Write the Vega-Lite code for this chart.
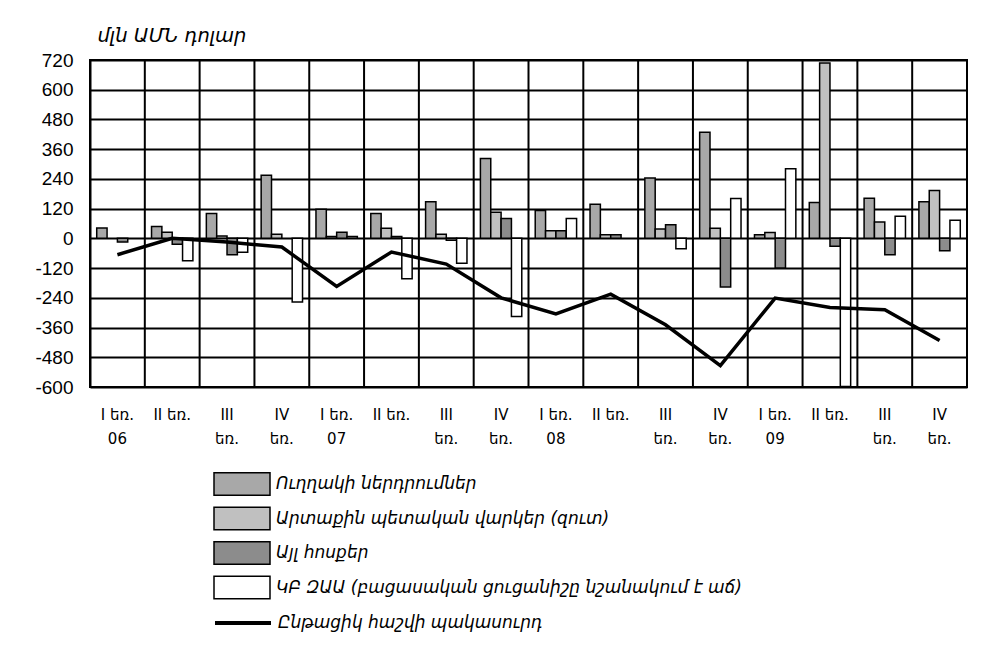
{
  "$schema": "https://vega.github.io/schema/vega-lite/v6.json",
  "width": 877,
  "height": 327,
  "autosize": {"type": "none"},
  "padding": {"left": 90, "top": 60, "right": 23, "bottom": 284},
  "background": "white",
  "config": {
    "view": {"stroke": "black", "strokeWidth": 2},
    "axisY": {"labelOverlap": false}
  },
  "datasets": {
    "bars": [
      {"q": "06-I", "s": "Ուղղակի ներդրումներ", "v": 42},
      {"q": "06-I", "s": "Այլ հոսքեր", "v": -15},
      {"q": "06-II", "s": "Ուղղակի ներդրումներ", "v": 48},
      {"q": "06-II", "s": "Արտաքին պետական վարկեր (զուտ)", "v": 25},
      {"q": "06-II", "s": "Այլ հոսքեր", "v": -24},
      {"q": "06-II", "s": "ԿԲ ԶԱԱ (բացասական ցուցանիշը նշանակում է աճ)", "v": -90},
      {"q": "06-III", "s": "Ուղղակի ներդրումներ", "v": 100},
      {"q": "06-III", "s": "Արտաքին պետական վարկեր (զուտ)", "v": 10},
      {"q": "06-III", "s": "Այլ հոսքեր", "v": -66},
      {"q": "06-III", "s": "ԿԲ ԶԱԱ (բացասական ցուցանիշը նշանակում է աճ)", "v": -56},
      {"q": "06-IV", "s": "Ուղղակի ներդրումներ", "v": 255},
      {"q": "06-IV", "s": "Արտաքին պետական վարկեր (զուտ)", "v": 17},
      {"q": "06-IV", "s": "ԿԲ ԶԱԱ (բացասական ցուցանիշը նշանակում է աճ)", "v": -257},
      {"q": "07-I", "s": "Ուղղակի ներդրումներ", "v": 118},
      {"q": "07-I", "s": "Արտաքին պետական վարկեր (զուտ)", "v": 8},
      {"q": "07-I", "s": "Այլ հոսքեր", "v": 25},
      {"q": "07-I", "s": "ԿԲ ԶԱԱ (բացասական ցուցանիշը նշանակում է աճ)", "v": 8},
      {"q": "07-II", "s": "Ուղղակի ներդրումներ", "v": 100},
      {"q": "07-II", "s": "Արտաքին պետական վարկեր (զուտ)", "v": 41},
      {"q": "07-II", "s": "Այլ հոսքեր", "v": 8},
      {"q": "07-II", "s": "ԿԲ ԶԱԱ (բացասական ցուցանիշը նշանակում է աճ)", "v": -163},
      {"q": "07-III", "s": "Ուղղակի ներդրումներ", "v": 148},
      {"q": "07-III", "s": "Արտաքին պետական վարկեր (զուտ)", "v": 17},
      {"q": "07-III", "s": "Այլ հոսքեր", "v": -8},
      {"q": "07-III", "s": "ԿԲ ԶԱԱ (բացասական ցուցանիշը նշանակում է աճ)", "v": -100},
      {"q": "07-IV", "s": "Ուղղակի ներդրումներ", "v": 322},
      {"q": "07-IV", "s": "Արտաքին պետական վարկեր (զուտ)", "v": 105},
      {"q": "07-IV", "s": "Այլ հոսքեր", "v": 80},
      {"q": "07-IV", "s": "ԿԲ ԶԱԱ (բացասական ցուցանիշը նշանակում է աճ)", "v": -315},
      {"q": "08-I", "s": "Ուղղակի ներդրումներ", "v": 112},
      {"q": "08-I", "s": "Արտաքին պետական վարկեր (զուտ)", "v": 31},
      {"q": "08-I", "s": "Այլ հոսքեր", "v": 31},
      {"q": "08-I", "s": "ԿԲ ԶԱԱ (բացասական ցուցանիշը նշանակում է աճ)", "v": 80},
      {"q": "08-II", "s": "Ուղղակի ներդրումներ", "v": 138},
      {"q": "08-II", "s": "Արտաքին պետական վարկեր (զուտ)", "v": 15},
      {"q": "08-II", "s": "Այլ հոսքեր", "v": 15},
      {"q": "08-III", "s": "Ուղղակի ներդրումներ", "v": 244},
      {"q": "08-III", "s": "Արտաքին պետական վարկեր (զուտ)", "v": 38},
      {"q": "08-III", "s": "Այլ հոսքեր", "v": 55},
      {"q": "08-III", "s": "ԿԲ ԶԱԱ (բացասական ցուցանիշը նշանակում է աճ)", "v": -42},
      {"q": "08-IV", "s": "Ուղղակի ներդրումներ", "v": 428},
      {"q": "08-IV", "s": "Արտաքին պետական վարկեր (զուտ)", "v": 41},
      {"q": "08-IV", "s": "Այլ հոսքեր", "v": -196},
      {"q": "08-IV", "s": "ԿԲ ԶԱԱ (բացասական ցուցանիշը նշանակում է աճ)", "v": 161},
      {"q": "09-I", "s": "Ուղղակի ներդրումներ", "v": 15},
      {"q": "09-I", "s": "Արտաքին պետական վարկեր (զուտ)", "v": 24},
      {"q": "09-I", "s": "Այլ հոսքեր", "v": -120},
      {"q": "09-I", "s": "ԿԲ ԶԱԱ (բացասական ցուցանիշը նշանակում է աճ)", "v": 281},
      {"q": "09-II", "s": "Ուղղակի ներդրումներ", "v": 145},
      {"q": "09-II", "s": "Արտաքին պետական վարկեր (զուտ)", "v": 708},
      {"q": "09-II", "s": "Այլ հոսքեր", "v": -32},
      {"q": "09-II", "s": "ԿԲ ԶԱԱ (բացասական ցուցանիշը նշանակում է աճ)", "v": -598},
      {"q": "09-III", "s": "Ուղղակի ներդրումներ", "v": 162},
      {"q": "09-III", "s": "Արտաքին պետական վարկեր (զուտ)", "v": 66},
      {"q": "09-III", "s": "Այլ հոսքեր", "v": -66},
      {"q": "09-III", "s": "ԿԲ ԶԱԱ (բացասական ցուցանիշը նշանակում է աճ)", "v": 89},
      {"q": "09-IV", "s": "Ուղղակի ներդրումներ", "v": 148},
      {"q": "09-IV", "s": "Արտաքին պետական վարկեր (զուտ)", "v": 193},
      {"q": "09-IV", "s": "Այլ հոսքեր", "v": -50},
      {"q": "09-IV", "s": "ԿԲ ԶԱԱ (բացասական ցուցանիշը նշանակում է աճ)", "v": 73}
    ],
    "ca": [
      {"q": "06-I", "k": "Ընթացիկ հաշվի պակասուրդ", "v": -66},
      {"q": "06-II", "k": "Ընթացիկ հաշվի պակասուրդ", "v": 0},
      {"q": "06-III", "k": "Ընթացիկ հաշվի պակասուրդ", "v": -15},
      {"q": "06-IV", "k": "Ընթացիկ հաշվի պակասուրդ", "v": -35},
      {"q": "07-I", "k": "Ընթացիկ հաշվի պակասուրդ", "v": -194},
      {"q": "07-II", "k": "Ընթացիկ հաշվի պակասուրդ", "v": -55},
      {"q": "07-III", "k": "Ընթացիկ հաշվի պակասուրդ", "v": -104},
      {"q": "07-IV", "k": "Ընթացիկ հաշվի պակասուրդ", "v": -240},
      {"q": "08-I", "k": "Ընթացիկ հաշվի պակասուրդ", "v": -305},
      {"q": "08-II", "k": "Ընթացիկ հաշվի պակասուրդ", "v": -225},
      {"q": "08-III", "k": "Ընթացիկ հաշվի պակասուրդ", "v": -349},
      {"q": "08-IV", "k": "Ընթացիկ հաշվի պակասուրդ", "v": -514},
      {"q": "09-I", "k": "Ընթացիկ հաշվի պակասուրդ", "v": -241},
      {"q": "09-II", "k": "Ընթացիկ հաշվի պակասուրդ", "v": -279},
      {"q": "09-III", "k": "Ընթացիկ հաշվի պակասուրդ", "v": -288},
      {"q": "09-IV", "k": "Ընթացիկ հաշվի պակասուրդ", "v": -412}
    ]
  },
  "layer": [
    {
      "data": {"name": "ca"},
      "mark": {"type": "rule", "color": "black", "strokeWidth": 2},
      "encoding": {
        "x": {
          "field": "q", "type": "nominal", "bandPosition": 0,
          "axis": {
            "title": null, "grid": false, "domain": false, "ticks": false, "bandPosition": 0.5,
            "labelAngle": 0, "labelAlign": "center", "labelFont": "DejaVu Sans", "labelFontSize": 15,
            "labelColor": "black", "labelPadding": 20, "labelLineHeight": 24, "labelBaseline": "top",
            "labelExpr": "indexof(datum.value,'-IV')>0 ? ['IV','եռ.'] : indexof(datum.value,'-III')>0 ? ['III','եռ.'] : indexof(datum.value,'-II')>0 ? ['II եռ.',''] : ['I եռ.', slice(datum.value,0,2)]"
          }
        }
      }
    },
    {
      "data": {"name": "bars"},
      "mark": {"type": "bar", "stroke": "black", "strokeWidth": 1.5},
      "encoding": {
        "x": {
          "field": "q",
          "type": "nominal",
          "scale": {
            "domain": ["06-I", "06-II", "06-III", "06-IV", "07-I", "07-II", "07-III", "07-IV", "08-I", "08-II", "08-III", "08-IV", "09-I", "09-II", "09-III", "09-IV"],
            "paddingInner": 0,
            "paddingOuter": 0
          },
          "axis": {
            "title": null, "grid": false, "domain": false, "ticks": false, "bandPosition": 0.5,
            "labelAngle": 0, "labelAlign": "center", "labelFont": "DejaVu Sans", "labelFontSize": 15,
            "labelColor": "black", "labelPadding": 20, "labelLineHeight": 24, "labelBaseline": "top",
            "labelExpr": "indexof(datum.value,'-IV')>0 ? ['IV','եռ.'] : indexof(datum.value,'-III')>0 ? ['III','եռ.'] : indexof(datum.value,'-II')>0 ? ['II եռ.',''] : ['I եռ.', slice(datum.value,0,2)]"
          }
        },
        "y": {
          "field": "v",
          "type": "quantitative",
          "scale": {"domain": [-600, 720], "nice": false},
          "axis": {
            "values": [-600, -480, -360, -240, -120, 0, 120, 240, 360, 480, 600, 720],
            "labelExpr": "'' + datum.value",
            "labelOverlap": false,
            "title": "մլն ԱՄՆ դոլար",
            "titleAngle": 0,
            "titleX": 7,
            "titleY": -19,
            "titleAlign": "left",
            "titleBaseline": "alphabetic",
            "titleFont": "DejaVu Sans",
            "titleFontStyle": "italic",
            "titleFontWeight": "normal",
            "titleFontSize": 19.5,
            "titleColor": "black",
            "grid": true,
            "gridColor": "black",
            "gridWidth": 2,
            "gridOpacity": 1,
            "domainColor": "black",
            "domainWidth": 2,
            "ticks": false,
            "labelFont": "Liberation Sans",
            "labelFontSize": 19,
            "labelColor": "black",
            "labelPadding": 17
          }
        },
        "xOffset": {
          "field": "s",
          "type": "nominal",
          "scale": {
            "domain": ["Ուղղակի ներդրումներ", "Արտաքին պետական վարկեր (զուտ)", "Այլ հոսքեր", "ԿԲ ԶԱԱ (բացասական ցուցանիշը նշանակում է աճ)"],
            "paddingInner": 0,
            "paddingOuter": 0.65
          }
        },
        "fill": {
          "field": "s",
          "type": "nominal",
          "scale": {
            "domain": ["Ուղղակի ներդրումներ", "Արտաքին պետական վարկեր (զուտ)", "Այլ հոսքեր", "ԿԲ ԶԱԱ (բացասական ցուցանիշը նշանակում է աճ)"],
            "range": ["#a8a8a8", "#c0c0c0", "#8c8c8c", "#ffffff"]
          },
          "legend": {
            "orient": "none",
            "legendX": 137,
            "legendY": 409,
            "title": null,
            "direction": "vertical",
            "symbolType": "M-2,-0.8H2V0.8H-2Z",
            "symbolSize": 784,
            "symbolStrokeColor": "black",
            "symbolStrokeWidth": 1.5,
            "labelFont": "DejaVu Sans",
            "labelFontStyle": "italic",
            "labelFontSize": 17,
            "labelColor": "black",
            "labelOffset": 19,
            "labelLimit": 700,
            "rowPadding": 4.5,
            "padding": 0
          }
        }
      }
    },
    {
      "data": {"name": "ca"},
      "mark": {"type": "line", "strokeWidth": 3.5},
      "encoding": {
        "x": {
          "field": "q", "type": "nominal",
          "axis": {
            "title": null, "grid": false, "domain": false, "ticks": false, "bandPosition": 0.5,
            "labelAngle": 0, "labelAlign": "center", "labelFont": "DejaVu Sans", "labelFontSize": 15,
            "labelColor": "black", "labelPadding": 20, "labelLineHeight": 24, "labelBaseline": "top",
            "labelExpr": "indexof(datum.value,'-IV')>0 ? ['IV','եռ.'] : indexof(datum.value,'-III')>0 ? ['III','եռ.'] : indexof(datum.value,'-II')>0 ? ['II եռ.',''] : ['I եռ.', slice(datum.value,0,2)]"
          }
        },
        "y": {
          "field": "v",
          "type": "quantitative",
          "axis": {
            "values": [-600, -480, -360, -240, -120, 0, 120, 240, 360, 480, 600, 720],
            "labelExpr": "'' + datum.value",
            "labelOverlap": false,
            "title": "մլն ԱՄՆ դոլար",
            "titleAngle": 0,
            "titleX": 7,
            "titleY": -19,
            "titleAlign": "left",
            "titleBaseline": "alphabetic",
            "titleFont": "DejaVu Sans",
            "titleFontStyle": "italic",
            "titleFontWeight": "normal",
            "titleFontSize": 19.5,
            "titleColor": "black",
            "grid": true,
            "gridColor": "black",
            "gridWidth": 2,
            "gridOpacity": 1,
            "domainColor": "black",
            "domainWidth": 2,
            "ticks": false,
            "labelFont": "Liberation Sans",
            "labelFontSize": 19,
            "labelColor": "black",
            "labelPadding": 17
          }
        },
        "stroke": {
          "field": "k",
          "type": "nominal",
          "scale": {"range": ["black"]},
          "legend": {
            "orient": "none",
            "legendX": 137,
            "legendY": 547,
            "title": null,
            "symbolType": "M-2,0H2",
            "symbolSize": 784,
            "symbolStrokeWidth": 4,
            "labelFont": "DejaVu Sans",
            "labelFontStyle": "italic",
            "labelFontSize": 17,
            "labelColor": "black",
            "labelOffset": 19,
            "labelLimit": 700,
            "padding": 0
          }
        }
      }
    }
  ]
}
